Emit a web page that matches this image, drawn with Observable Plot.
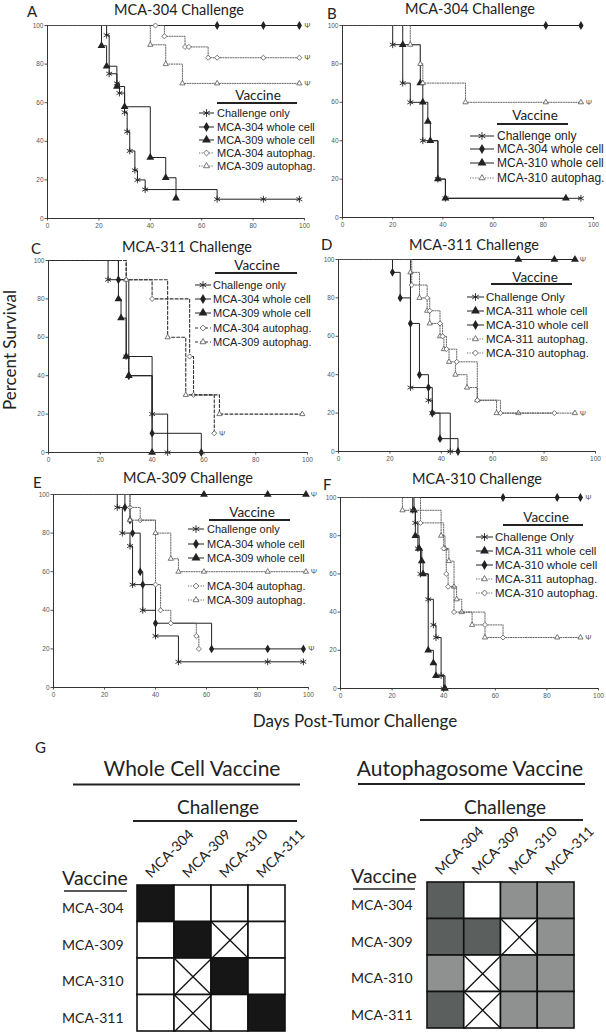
<!DOCTYPE html>
<html><head><meta charset="utf-8">
<script src="https://cdn.jsdelivr.net/npm/d3@7"></script>
<script src="https://cdn.jsdelivr.net/npm/@observablehq/plot@0.6"></script>
<style>
body{margin:0;background:#fff;}
#fig{position:relative;width:606px;height:1036px;overflow:hidden;background:#fff;}
</style></head><body><div id="fig"></div>
<script>
// ---------- DATA ----------
const xTicks = [0, 20, 40, 60, 80, 100];
const yTicks = [0, 20, 40, 60, 80, 100];
const panelLetters = ["A", "B", "C", "D", "E", "F"];
const panelTitles = ["MCA-304 Challenge", "MCA-304 Challenge", "MCA-311 Challenge", "MCA-311 Challenge", "MCA-309 Challenge", "MCA-310 Challenge"];

const seriesA = [
  {label: "Challenge only", days: [0, 23, 24, 27, 28, 30, 31, 32, 34, 35, 38, 66, 84, 98], pct: [100, 95, 75, 70, 65, 55, 45, 35, 25, 20, 15, 10, 10, 10], psi: false},
  {label: "MCA-304 whole cell", days: [0, 66, 84, 98], pct: [100, 100, 100, 100], psi: true},
  {label: "MCA-309 whole cell", days: [0, 21, 23, 27, 30, 40, 46, 50], pct: [100, 89.5, 78.9, 68.4, 57.9, 31.6, 21.1, 10.5], psi: false},
  {label: "MCA-304 autophag.", days: [0, 42, 45.5, 53.5, 55, 62.5, 66, 84, 98], pct: [100, 100, 94.4, 88.9, 88.9, 83.3, 83.3, 83.3, 83.3], psi: true},
  {label: "MCA-309 autophag.", days: [0, 40, 46, 52.5, 66, 98], pct: [100, 90, 80, 70, 70, 70], psi: true}
];
const seriesB = [
  {label: "Challenge only", days: [0, 20, 24, 27, 32, 38, 41, 95], pct: [100, 90, 70, 60, 40, 20, 10, 10], psi: false},
  {label: "MCA-304 whole cell", days: [0, 81, 95], pct: [100, 100, 100], psi: false},
  {label: "MCA-310 whole cell", days: [0, 24, 31, 32, 34, 35, 38, 41, 89], pct: [100, 90, 70, 60, 50, 40, 20, 10, 10], psi: false},
  {label: "MCA-310 autophag.", days: [0, 27, 31, 32, 49, 81, 95], pct: [100, 90, 80, 70, 60, 60, 60], psi: true}
];
const seriesC = [
  {label: "Challenge only", days: [0, 23, 30, 40, 46], pct: [100, 90, 50, 20, 0], psi: false},
  {label: "MCA-304 whole cell", days: [0, 27, 31, 40, 59], pct: [100, 90, 40, 10, 0], psi: false},
  {label: "MCA-309 whole cell", days: [0, 27, 28, 30, 31, 40], pct: [100, 80, 70, 50, 40, 0], psi: false},
  {label: "MCA-304 autophag.", days: [0, 30, 40, 54.5, 56, 64], pct: [100, 90, 80, 50, 30, 10], psi: true},
  {label: "MCA-309 autophag.", days: [0, 30, 46, 53, 66, 98], pct: [100, 90, 60, 30, 20, 20], psi: false}
];
const seriesD = [
  {label: "Challenge Only", days: [0, 28, 35, 36.5, 43.5], pct: [100, 33.3, 26.7, 20, 0], psi: false},
  {label: "MCA-311 whole cell", days: [0, 70, 84, 92], pct: [100, 100, 100, 100], psi: true},
  {label: "MCA-310 whole cell", days: [0, 21, 24, 28, 31.5, 35, 36.5, 39.5, 46.5], pct: [100, 93.3, 80, 66.7, 40, 33.3, 20, 6.7, 0], psi: false},
  {label: "MCA-311 autophag.", days: [0, 28, 31.5, 34.5, 35.5, 39.5, 41, 43, 45.5, 50, 54, 61.5, 70, 92], pct: [100, 93.3, 80, 73.3, 66.7, 60, 53.3, 46.7, 40, 33.3, 26.7, 20, 20, 20], psi: true},
  {label: "MCA-310 autophag.", days: [0, 28.5, 34.5, 35.5, 39.5, 40.5, 42, 46, 54, 63, 84], pct: [100, 86.7, 80, 73.3, 66.7, 60, 53.3, 46.7, 26.7, 20, 20], psi: false}
];
const seriesE = [
  {label: "Challenge only", days: [0, 25, 27, 30, 31, 35, 40, 49, 84, 98], pct: [100, 93.3, 80, 73.3, 53.3, 40, 26.7, 13.3, 13.3, 13.3], psi: false},
  {label: "MCA-304 whole cell", days: [0, 28, 30, 31, 34, 35, 40, 62, 84, 98], pct: [100, 93.3, 86.7, 80, 60, 53.3, 33.3, 20, 20, 20], psi: true},
  {label: "MCA-309 whole cell", days: [0, 59, 84, 99], pct: [100, 100, 100, 100], psi: true},
  {label: "MCA-304 autophag.", days: [0, 30, 34, 40, 42, 46, 56, 57], pct: [100, 93.3, 86.7, 53.3, 40, 33.3, 26.7, 20], psi: false},
  {label: "MCA-309 autophag.", days: [0, 30, 40, 46, 49, 59, 84, 99], pct: [100, 86.7, 80, 66.7, 60, 60, 60, 60], psi: true}
];
const seriesF = [
  {label: "Challenge Only", days: [0, 28, 29, 30, 31, 34, 36, 37, 39, 40], pct: [100, 93.3, 86.7, 73.3, 60, 46.7, 33.3, 26.7, 6.7, 0], psi: false},
  {label: "MCA-311 whole cell", days: [0, 28.5, 29, 30.5, 31.5, 32, 34, 36, 37, 40.5], pct: [100, 93.3, 80, 73.3, 66.7, 60, 20, 13.3, 6.7, 0], psi: false},
  {label: "MCA-310 whole cell", days: [0, 63, 84, 93], pct: [100, 100, 100, 100], psi: true},
  {label: "MCA-311 autophag.", days: [0, 24, 39, 40.5, 42, 44, 45, 47, 51, 56, 84, 93], pct: [100, 93.3, 80, 73.3, 66.7, 53.3, 46.7, 40, 33.3, 26.7, 26.7, 26.7], psi: true},
  {label: "MCA-310 autophag.", days: [0, 31, 40, 41, 41.7, 44, 56, 63], pct: [100, 86.7, 73.3, 60, 53.3, 40, 33.3, 26.7], psi: false}
];

const challengeLines = ["MCA-304", "MCA-309", "MCA-310", "MCA-311"];
const vaccineLines = ["MCA-304", "MCA-309", "MCA-310", "MCA-311"];
const protectionLevels = ["complete", "strong", "partial", "none", "nd"];
const wholeCellMatrix = [
  ["complete", "none", "none", "none"],
  ["none", "complete", "nd", "none"],
  ["none", "nd", "complete", "none"],
  ["none", "nd", "none", "complete"]
];
const autophagMatrix = [
  ["strong", "none", "partial", "partial"],
  ["strong", "strong", "nd", "partial"],
  ["partial", "nd", "partial", "partial"],
  ["strong", "nd", "partial", "partial"]
];

// ---------- STYLE / LAYOUT ----------
const fig = document.getElementById("fig");
const SANS = "Lato, 'Open Sans', sans-serif";
const ARIAL = "'Liberation Sans', Arial, sans-serif";

const symStyle = {
  ast: {symbol: "asterisk", d3s: d3.symbolAsterisk, r: 3.2, fill: "none", stroke: "#222", sw: 0.9},
  dia: {symbol: "diamond", d3s: d3.symbolDiamond, r: 2.7, fill: "#222", stroke: "none", sw: 0},
  tri: {symbol: "triangle", d3s: d3.symbolTriangle, r: 2.9, fill: "#222", stroke: "none", sw: 0},
  odia: {symbol: "diamond2", d3s: d3.symbolDiamond2, r: 2.3, fill: "white", stroke: "#555", sw: 0.8},
  otri: {symbol: "triangle2", d3s: d3.symbolTriangle2, r: 2.5, fill: "white", stroke: "#555", sw: 0.8}
};
const lineStyle = {
  solid: {stroke: "#222", sw: 1, dash: null},
  dot: {stroke: "#555", sw: 0.9, dash: "1.2,1.3"},
  dash: {stroke: "#333", sw: 1.1, dash: "3,2"}
};

const panels = [
  {series: seriesA, styles: ["ast", "dia", "tri", "odia", "otri"], auto: "dot", left: 0, top: 20, w: 310, h: 225, x0: 47, x100: 304, y100: 25, y0: 218,
   letter: [27, 17], title: [179, 15], leg: {vc: 258, vb: 100, ul: [217, 297, 103], rows: [113, 127, 140, 153, 166], sym: [199, 214], tx: 217, fs: 11}},
  {series: seriesB, styles: ["ast", "dia", "tri", "otri"], auto: "dot", left: 300, top: 20, w: 306, h: 225, x0: 342, x100: 593, y100: 25, y0: 217,
   letter: [327, 19], title: [470, 14], leg: {vc: 535, vb: 120, ul: [497, 568, 124], rows: [136, 149, 163, 178], sym: [470, 494], tx: 497, fs: 12}},
  {series: seriesC, styles: ["ast", "dia", "tri", "odia", "otri"], auto: "dash", left: 0, top: 255, w: 310, h: 225, x0: 48, x100: 307, y100: 260, y0: 452,
   letter: [31, 254], title: [187, 252], leg: {vc: 257, vb: 270, ul: [215, 297, 273], rows: [285, 299, 313, 328, 342], sym: [195, 211], tx: 213, fs: 11}},
  {series: seriesD, styles: ["ast", "tri", "dia", "otri", "odia"], auto: "dot", left: 300, top: 254, w: 306, h: 225, x0: 338, x100: 595, y100: 259, y0: 451,
   letter: [321, 250], title: [474, 250], leg: {vc: 535, vb: 282, ul: [491, 572, 284], rows: [297, 311, 325, 339, 353], sym: [467, 484], tx: 486, fs: 11.5}},
  {series: seriesE, styles: ["ast", "dia", "tri", "odia", "otri"], auto: "dot", left: 0, top: 489, w: 310, h: 225, x0: 53, x100: 308, y100: 494, y0: 687,
   letter: [33, 488], title: [188, 483], leg: {vc: 252, vb: 517, ul: [209, 290, 520], rows: [529, 544, 558, 586, 600], sym: [188, 204], tx: 207, fs: 11}},
  {series: seriesF, styles: ["ast", "tri", "dia", "otri", "odia"], auto: "dot", left: 300, top: 492, w: 306, h: 225, x0: 340, x100: 598, y100: 497, y0: 688,
   letter: [323, 490], title: [477, 484], leg: {vc: 546, vb: 522, ul: [503, 583, 525], rows: [537, 551, 565, 579, 593], sym: [476, 493], tx: 495, fs: 11.5}}
];

function place(node, left, top) {
  node.style.position = "absolute";
  node.style.left = left + "px";
  node.style.top = top + "px";
  fig.appendChild(node);
}

function lineKind(p, s) { return s.label.includes("autophag") ? p.auto : "solid"; }

// ---------- SURVIVAL PANELS ----------
panels.forEach((p) => {
  const marks = [];
  p.series.forEach((s, i) => {
    const rows = s.days.map((d, j) => ({day: d, pct: s.pct[j], j}));
    const ls = lineStyle[lineKind(p, s)];
    const ss = symStyle[p.styles[i]];
    marks.push(Plot.line(rows, {x: "day", y: "pct", curve: "step-after", stroke: ls.stroke, strokeWidth: ls.sw, strokeDasharray: ls.dash}));
    marks.push(Plot.dot(rows.filter(r => r.j > 0), {x: "day", y: "pct", symbol: ss.symbol, r: ss.r, fill: ss.fill, stroke: ss.stroke, strokeWidth: ss.sw}));
    if (s.psi) marks.push(Plot.text(rows.slice(-1), {x: "day", y: "pct", text: () => "Ψ", dx: 8, fontSize: 7.5, fill: "#555"}));
  });
  marks.push(Plot.ruleX([0], {stroke: "#333", strokeWidth: 1}));
  marks.push(Plot.ruleY([0], {stroke: "#333", strokeWidth: 1}));
  const chart = Plot.plot({
    width: p.w, height: p.h,
    marginLeft: p.x0 - p.left, marginRight: p.left + p.w - p.x100,
    marginTop: p.y100 - p.top, marginBottom: p.top + p.h - p.y0,
    x: {domain: [0, 100], ticks: xTicks, tickSize: 2.5, tickPadding: 2, label: null},
    y: {domain: [0, 100], ticks: yTicks, tickSize: 2.5, tickPadding: 1.5, label: null},
    style: {background: "none", overflow: "visible", fontSize: "6.5px", fontFamily: ARIAL, color: "#555"},
    marks
  });
  place(chart, p.left, p.top);
});

// ---------- GRIDS (panel G) ----------
const levelColors = ["#161616", "#5b5f5d", "#8f9190", "#ffffff", "#ffffff"];
function grid(matrix, g) {
  const cells = [];
  matrix.forEach((row, r) => row.forEach((lvl, c) => cells.push({r, c, lvl})));
  const nd = cells.filter(d => d.lvl === "nd");
  const chart = Plot.plot({
    width: g.w, height: g.h,
    marginLeft: g.gx0 - g.left, marginRight: g.left + g.w - g.gx1,
    marginTop: g.gy0 - g.top, marginBottom: g.top + g.h - g.gy1,
    x: {domain: [0, 4], axis: null},
    y: {domain: [0, 4], reverse: true, axis: null},
    color: {type: "ordinal", domain: protectionLevels, range: levelColors},
    style: {background: "none", overflow: "visible", fontFamily: SANS, color: "#222"},
    marks: [
      Plot.rect(cells, {x1: "c", x2: d => d.c + 1, y1: "r", y2: d => d.r + 1, fill: "lvl", stroke: "#111", strokeWidth: 1.6}),
      Plot.link(nd, {x1: "c", y1: "r", x2: d => d.c + 1, y2: d => d.r + 1, stroke: "#111", strokeWidth: 1.3}),
      Plot.link(nd, {x1: "c", y1: d => d.r + 1, x2: d => d.c + 1, y2: "r", stroke: "#111", strokeWidth: 1.3}),
      Plot.text(vaccineLines, {x: () => 0, y: (d, i) => i + 0.5, text: d => d, textAnchor: "end", dx: g.rowDx, dy: 5, fontSize: 14, fill: "#222"}),
      Plot.text(challengeLines, {x: (d, i) => i + 0.5, y: () => 0, text: d => d, textAnchor: "start", rotate: -45, dx: -8, dy: -10, fontSize: 14, fill: "#222"})
    ]
  });
  place(chart, g.left, g.top);
}
grid(wholeCellMatrix, {left: 0, top: 820, w: 300, h: 216, gx0: 137, gx1: 285, gy0: 885, gy1: 1031, rowDx: -14});
grid(autophagMatrix, {left: 300, top: 817, w: 306, h: 219, gx0: 427, gx1: 574, gy0: 882, gy1: 1028, rowDx: -15});

// ---------- OVERLAY TEXT / LEGENDS ----------
const ov = d3.select(fig).append("svg")
  .attr("width", 606).attr("height", 1036)
  .style("position", "absolute").style("left", 0).style("top", 0).style("pointer-events", "none");

function txt(x, y, s, size, anchor = "middle", family = SANS, fill = "#222") {
  return ov.append("text").attr("x", x).attr("y", y).attr("text-anchor", anchor)
    .attr("font-family", family).attr("font-size", size).attr("fill", fill).text(s);
}
function hline(x1, x2, y, w = 1.6) {
  ov.append("line").attr("x1", x1).attr("x2", x2).attr("y1", y).attr("y2", y).attr("stroke", "#222").attr("stroke-width", w);
}

panels.forEach((p, k) => {
  txt(p.letter[0], p.letter[1], panelLetters[k], 15, "start");
  txt(p.title[0], p.title[1], panelTitles[k], 14.5);
  const L = p.leg;
  txt(L.vc, L.vb, "Vaccine", 13.5);
  hline(L.ul[0], L.ul[1], L.ul[2], 1.8);
  p.series.forEach((s, i) => {
    const y = L.rows[i];
    const ls = lineStyle[lineKind(p, s)];
    const ss = symStyle[p.styles[i]];
    const g = ov.append("g");
    g.append("line").attr("x1", L.sym[0]).attr("x2", L.sym[1]).attr("y1", y).attr("y2", y)
      .attr("stroke", ls.stroke).attr("stroke-width", ls.sw).attr("stroke-dasharray", ls.dash);
    g.append("path").attr("transform", `translate(${(L.sym[0] + L.sym[1]) / 2},${y})`)
      .attr("d", d3.symbol(ss.d3s, Math.PI * ss.r * ss.r * 1.3)())
      .attr("fill", ss.fill).attr("stroke", ss.stroke).attr("stroke-width", ss.sw);
    txt(L.tx, y + L.fs * 0.36, s.label, L.fs, "start", ARIAL, "#222");
  });
});

// axis titles
txt(0, 0, "Percent Survival", 17).attr("transform", "translate(16,350) rotate(-90)");
txt(355, 727, "Days Post-Tumor Challenge", 17);

// panel G headers
txt(35, 753, "G", 15, "start");
txt(192, 776, "Whole Cell Vaccine", 21);
hline(73, 300, 784.5, 1.8);
txt(218, 814, "Challenge", 19);
hline(133, 297, 821, 1.8);
txt(95, 885, "Vaccine", 19.5);
hline(64, 127, 891, 1.6);

txt(470, 776, "Autophagosome Vaccine", 21);
hline(358, 585, 784, 1.8);
txt(505, 814, "Challenge", 19);
hline(420, 583, 820, 1.8);
txt(384, 883, "Vaccine", 19.5);
hline(353, 415, 889, 1.6);
</script></body></html>
